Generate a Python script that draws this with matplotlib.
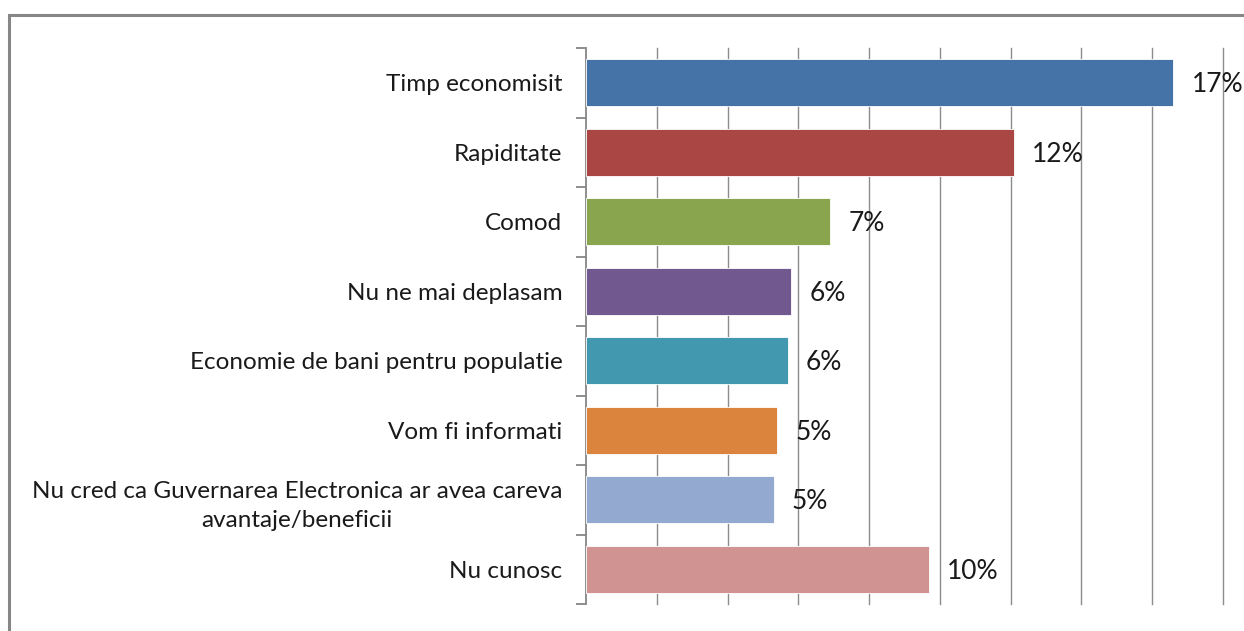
import matplotlib
matplotlib.use("Agg")
import matplotlib.pyplot as plt
from matplotlib.patches import Rectangle
from matplotlib.ticker import FixedLocator, NullFormatter

categories = [
    "Timp economisit",
    "Rapiditate",
    "Comod",
    "Nu ne mai deplasam",
    "Economie de bani pentru populatie",
    "Vom fi informati",
    "Nu cred ca Guvernarea Electronica ar avea careva\navantaje/beneficii",
    "Nu cunosc",
]
values = [16.6, 12.1, 6.9, 5.8, 5.7, 5.4, 5.3, 9.7]
colors = ["#4572A7", "#AA4643", "#89A54E", "#71588F",
          "#4198AF", "#DB843D", "#93A9CF", "#D19392"]
x_max = 18
grid_step = 2

plt.rcParams["font.family"] = ["Lato", "DejaVu Sans"]

W, H = 1244, 631
fig = plt.figure(figsize=(W / 100, H / 100), dpi=100)
fig.patch.set_facecolor("white")

# outer chart frame (runs off the right and bottom edges)
fig.add_artist(Rectangle((8.5 / W, -0.1), 1.2, 1 - 14.5 / H + 0.1,
                         transform=fig.transFigure, fill=False,
                         edgecolor="#878787", linewidth=2.2))

ax = fig.add_axes([586 / W, 1 - 604 / H, (1223 - 586) / W, (604 - 48) / H])

n = len(categories)
ypos = list(range(n))
ax.barh(ypos, values, height=0.68, color=colors,
        edgecolor="white", linewidth=0.6, zorder=3)

ax.set_xlim(0, x_max)
ax.set_ylim(n - 0.5, -0.5)

# vertical gridlines, no x tick labels
ax.xaxis.set_major_locator(FixedLocator(list(range(grid_step, x_max + 1, grid_step))))
ax.xaxis.set_major_formatter(NullFormatter())
ax.tick_params(axis="x", length=0)
ax.grid(axis="x", color="#8C8C8C", linewidth=1.0, zorder=1)
for gl in ax.get_xgridlines():
    gl.set_clip_on(False)

# category labels at bar centres, tick marks at category boundaries
ax.set_yticks(ypos)
ax.set_yticklabels(categories, fontsize=17.5, color="#1A1A1A",
                   multialignment="center", linespacing=1.5)
ax.tick_params(axis="y", which="major", length=0, pad=17)
ax.yaxis.set_minor_locator(FixedLocator([i - 0.5 for i in range(n + 1)]))
ax.tick_params(axis="y", which="minor", length=7, width=1.3,
               color="#868686", direction="out")

for side in ["top", "right", "bottom"]:
    ax.spines[side].set_visible(False)
ax.spines["left"].set_color("#868686")
ax.spines["left"].set_linewidth(1.3)

for y, v in zip(ypos, values):
    ax.annotate(f"{v:.0f}%", xy=(v, y), xytext=(18, -2),
                textcoords="offset pixels", va="center", ha="left",
                fontsize=19, color="#1A1A1A", zorder=4)

fig.savefig("out.png", dpi=100)
